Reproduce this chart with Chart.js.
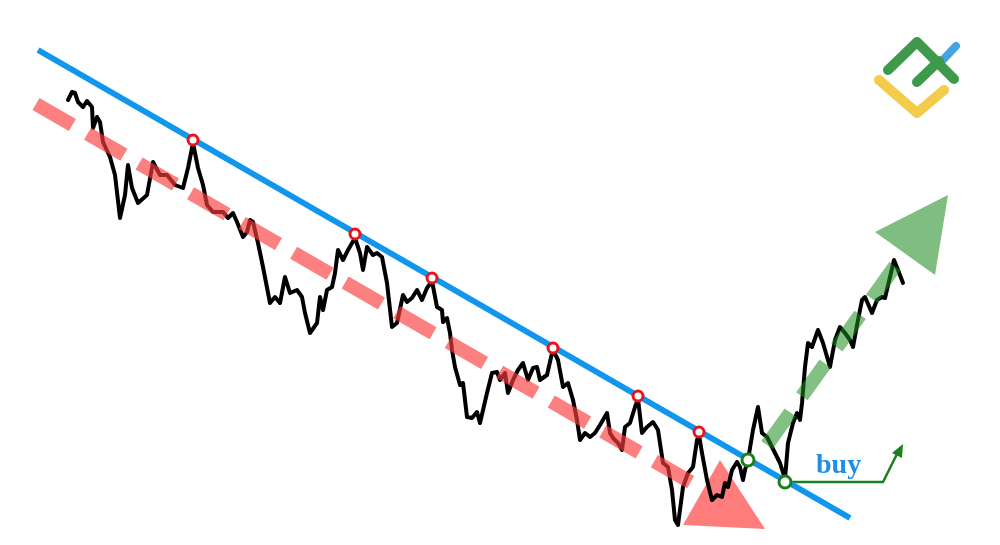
<!DOCTYPE html>
<html>
<head>
<meta charset="utf-8">
<script src="https://cdn.jsdelivr.net/npm/chart.js@4"></script>
<style>
  html, body { margin: 0; padding: 0; background: #fff; overflow: hidden; }
  #wrap { width: 1000px; height: 545px; position: relative; }
</style>
</head>
<body>
<div id="wrap"><canvas id="chart"></canvas></div>
<script>
// price path (x, y in picture units, y grows downward)
const priceX = [68,72,75,78,83,87,92,93,97,100,103,110,115,120,125,128,132,138,147,153,160,167,175,183,188,193,198,203,207,213,223,228,233,237,243,247,250,253,258,263,270,275,280,285,290,297,302,305,310,317,320,323,327,332,335,338,343,348,355,360,363,367,373,377,382,387,392,397,403,407,412,417,422,427,432,437,442,443,447,450,452,455,460,463,467,472,477,480,487,492,497,500,505,508,513,518,523,528,533,537,540,547,552,553,558,563,568,573,577,580,585,590,595,600,607,610,613,618,622,625,630,635,638,642,647,653,658,663,668,672,675,678,683,688,693,697,699,702,707,712,717,722,725,728,732,737,740,743,745,748,753,758,762,767,772,777,780,785,788,793,797,800,802,805,808,812,818,823,830,835,840,845,850,853,858,862,865,872,877,882,885,890,894,898,903];
const priceY = [100,92,93,102,107,101,107,128,117,122,142,157,175,218,195,165,188,203,195,162,175,175,185,188,168,143,168,185,205,212,212,218,213,222,237,232,220,222,243,267,303,297,303,277,293,290,297,313,333,323,297,310,290,287,273,250,260,250,238,253,270,247,255,253,257,283,327,323,295,302,298,290,300,288,281,307,310,322,318,333,350,367,385,383,417,418,412,423,393,373,372,380,373,393,380,370,363,380,368,367,380,375,353,350,360,387,383,400,420,440,433,437,433,425,413,433,438,443,450,427,423,407,399,433,427,422,430,463,467,490,520,525,487,473,467,440,435,453,480,500,495,497,483,487,470,462,467,480,470,460,430,407,433,437,447,457,463,479,443,423,413,420,403,367,343,347,330,343,367,340,327,333,340,347,320,300,297,313,300,297,298,277,260,270,283];

// trend lines
const resistX = [38, 850];
const resistY = [50, 518];
const downX = [36, 694];
const downY = [104, 484];
const upX = [767, 898];
const upY = [445, 262];

// touch points
const touchX = [193, 355, 432, 553, 638, 699];
const touchY = [140, 234, 278, 348, 396, 432];
const breakX = [748, 785];
const breakY = [460, 482];

// triangles
const downTriX = [720, 683, 765, 720];
const downTriY = [460, 525, 529, 460];
const upTriX = [875, 948, 935, 875];
const upTriY = [232, 195, 275, 232];

// buy arrow
const buyX = [785, 883, 898];
const buyY = [482, 482, 452];
const headX = [903, 892, 902, 903];
const headY = [444, 453, 458, 444];
const buyText = 'buy';

// logo strokes
const logoYellowX = [879, 917, 944];
const logoYellowY = [80, 113, 90];
const logoGreenX = [888, 917, 954];
const logoGreenY = [70, 42, 79];
const logoInnerX = [917, 939];
const logoInnerY = [82, 61];
const logoBlueX = [940, 956];
const logoBlueY = [63, 46];

const pts = (xs, ys) => xs.map((x, i) => ({ x: x, y: ys[i] }));

const line = (xs, ys, color, width, order, extra) => Object.assign({
  data: pts(xs, ys),
  borderColor: color,
  borderWidth: width,
  pointRadius: 0,
  showLine: true,
  tension: 0,
  fill: false,
  order: order,
}, extra || {});

const shape = (xs, ys, color, order) => line(xs, ys, color, 0, order, {
  fill: 'shape',
  backgroundColor: color,
});

const markers = (xs, ys, color, radius) => ({
  data: pts(xs, ys),
  showLine: false,
  pointRadius: radius,
  pointBorderWidth: 3,
  pointBorderColor: color,
  pointBackgroundColor: '#ffffff',
  order: 0,
});

const buyLabel = {
  id: 'buyLabel',
  afterDatasetsDraw(chart) {
    const { ctx, scales: { x, y } } = chart;
    ctx.save();
    ctx.font = 'bold 28px "Liberation Serif"';
    ctx.fillStyle = '#1e8ee6';
    ctx.textBaseline = 'alphabetic';
    ctx.fillText(buyText, x.getPixelForValue(816), y.getPixelForValue(473));
    ctx.restore();
  },
};

new Chart(document.getElementById('chart'), {
  type: 'scatter',
  data: {
    datasets: [
      markers(touchX, touchY, '#e8141a', 5),
      markers(breakX, breakY, '#1b7f1b', 6),
      line(resistX, resistY, '#1196ee', 6, 2),
      line(buyX, buyY, '#1b7f1b', 2.5, 2),
      shape(headX, headY, '#1b7f1b', 2),
      line(downX, downY, 'rgba(250,60,60,0.65)', 14, 3, { borderDash: [42, 17.5] }),
      line(upX, upY, 'rgba(30,140,30,0.55)', 14, 3, { borderDash: [40, 20] }),
      line(priceX, priceY, '#000000', 4, 4, { borderJoinStyle: 'round', borderCapStyle: 'round' }),
      shape(downTriX, downTriY, 'rgba(255,110,110,0.9)', 5),
      shape(upTriX, upTriY, 'rgba(110,180,110,0.88)', 5),
      line(logoGreenX, logoGreenY, '#3e9a4a', 10, 6, { borderCapStyle: 'round', borderJoinStyle: 'round' }),
      line(logoInnerX, logoInnerY, '#3e9a4a', 10, 6, { borderCapStyle: 'round' }),
      line(logoYellowX, logoYellowY, '#f2cc4a', 10, 6, { borderCapStyle: 'round', borderJoinStyle: 'round' }),
      line(logoBlueX, logoBlueY, '#46a3e2', 8, 7, { borderCapStyle: 'round' }),
    ],
  },
  options: {
    responsive: true,
    maintainAspectRatio: false,
    animation: false,
    layout: { padding: 0, autoPadding: false },
    plugins: {
      legend: { display: false },
      tooltip: { enabled: false },
    },
    scales: {
      x: { type: 'linear', min: 0, max: 1000, display: false },
      y: { type: 'linear', min: 0, max: 545, reverse: true, display: false },
    },
  },
  plugins: [buyLabel],
});
</script>
</body>
</html>
